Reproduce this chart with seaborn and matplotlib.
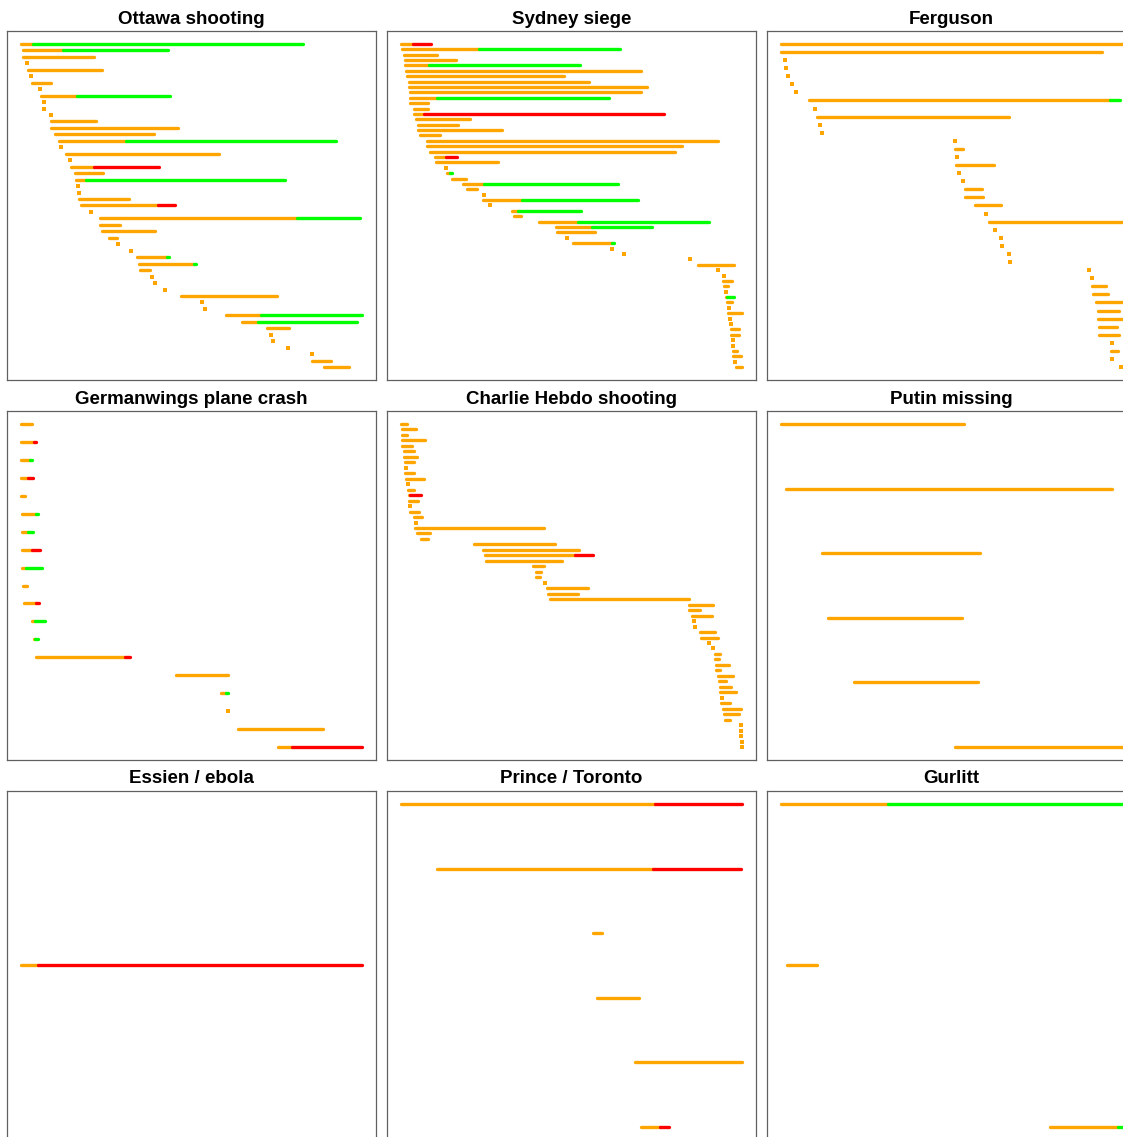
import numpy as np
import pandas as pd
import matplotlib
matplotlib.use("Agg")
import matplotlib.pyplot as plt
import seaborn as sns

# Colours: unverified -> orange, resolved true -> green, resolved false -> red
COLORS = {"U": "#FFA500", "T": "#00FF00", "F": "#FF0000"}

titles = ["Ottawa shooting", "Sydney siege", "Ferguson",
          "Germanwings plane crash", "Charlie Hebdo shooting", "Putin missing",
          "Essien / ebola", "Prince / Toronto", "Gurlitt"]

# Each row: (start, time of resolution or None, end, verdict)
ottawa = [
    (37, 75, 890, "T"), (44, 165, 481, "T"), (45, None, 259, "U"), (55, None, 55, "U"),
    (60, None, 282, "U"), (68, None, 68, "U"), (70, None, 129, "U"), (96, None, 96, "U"),
    (98, 207, 489, "T"), (106, None, 106, "U"), (108, None, 108, "U"), (130, None, 130, "U"),
    (128, None, 264, "U"), (128, None, 513, "U"), (140, None, 439, "U"), (153, 355, 989, "T"),
    (160, None, 160, "U"), (174, None, 636, "U"), (186, None, 186, "U"), (188, 259, 456, "F"),
    (200, None, 285, "U"), (204, 235, 835, "T"), (211, None, 211, "U"), (213, None, 213, "U"),
    (212, None, 365, "U"), (219, 453, 504, "F"), (249, None, 249, "U"), (277, 873, 1061, "T"),
    (278, None, 336, "U"), (282, None, 443, "U"), (305, None, 329, "U"), (331, None, 331, "U"),
    (370, None, 370, "U"), (387, 480, 486, "T"), (394, 560, 566, "T"), (396, None, 428, "U"),
    (434, None, 434, "U"), (443, None, 443, "U"), (472, None, 472, "U"), (522, None, 812, "U"),
    (585, None, 585, "U"), (593, None, 593, "U"), (656, 762, 1069, "T"), (705, 753, 1053, "T"),
    (781, None, 848, "U"), (793, None, 793, "U"), (798, None, 798, "U"), (843, None, 843, "U"),
    (918, None, 918, "U"), (916, None, 975, "U"), (952, None, 1028, "U"),
]

sydney = [
    (38, 75, 129, "F"), (41, 276, 701, "T"), (48, None, 147, "U"), (52, None, 206, "U"),
    (52, 125, 581, "T"), (53, None, 763, "U"), (57, None, 532, "U"), (62, None, 608, "U"),
    (63, None, 783, "U"), (65, None, 764, "U"), (66, 148, 668, "T"), (67, None, 120, "U"),
    (77, None, 120, "U"), (79, 108, 833, "F"), (84, None, 248, "U"), (91, None, 210, "U"),
    (91, None, 343, "U"), (95, None, 158, "U"), (117, None, 995, "U"), (118, None, 889, "U"),
    (126, None, 867, "U"), (141, 174, 207, "F"), (146, None, 331, "U"), (175, None, 175, "U"),
    (177, 186, 193, "T"), (193, None, 236, "U"), (227, 290, 694, "T"), (237, None, 270, "U"),
    (289, None, 289, "U"), (287, 405, 754, "T"), (309, None, 309, "U"), (373, 391, 582, "T"),
    (379, None, 401, "U"), (455, 573, 968, "T"), (507, 616, 797, "T"), (510, None, 624, "U"),
    (540, None, 540, "U"), (560, 676, 681, "T"), (676, None, 676, "U"), (713, None, 713, "U"),
    (913, None, 913, "U"), (935, None, 1044, "U"), (998, None, 998, "U"), (1015, None, 1015, "U"),
    (1012, None, 1040, "U"), (1014, None, 1027, "U"), (1022, None, 1022, "U"), (1021, 1024, 1046, "T"),
    (1023, None, 1040, "U"), (1029, None, 1029, "U"), (1027, None, 1070, "U"), (1033, None, 1033, "U"),
    (1036, None, 1036, "U"), (1037, None, 1059, "U"), (1037, None, 1060, "U"), (1042, None, 1042, "U"),
    (1042, None, 1042, "U"), (1042, None, 1055, "U"), (1043, None, 1066, "U"), (1048, None, 1048, "U"),
    (1052, None, 1070, "U"),
]

ferguson = [
    (38, None, 1066, "U"), (38, None, 1006, "U"), (50, None, 50, "U"), (55, None, 55, "U"),
    (61, None, 61, "U"), (73, None, 73, "U"), (85, None, 85, "U"), (122, 1030, 1059, "T"),
    (141, None, 141, "U"), (146, None, 726, "U"), (157, None, 157, "U"), (161, None, 161, "U"),
    (564, None, 564, "U"), (563, None, 588, "U"), (568, None, 568, "U"), (565, None, 680, "U"),
    (574, None, 574, "U"), (586, None, 586, "U"), (593, None, 644, "U"), (594, None, 648, "U"),
    (623, None, 700, "U"), (655, None, 655, "U"), (664, None, 1064, "U"), (682, None, 682, "U"),
    (700, None, 700, "U"), (703, None, 703, "U"), (724, None, 724, "U"), (727, None, 727, "U"),
    (967, None, 967, "U"), (976, None, 976, "U"), (974, None, 1016, "U"), (979, None, 1024, "U"),
    (986, None, 1066, "U"), (993, None, 1057, "U"), (993, None, 1065, "U"), (995, None, 1049, "U"),
    (995, None, 1055, "U"), (1034, None, 1034, "U"), (1031, None, 1052, "U"), (1035, None, 1035, "U"),
    (1062, None, 1062, "U"),
]

germanwings = [
    (38, None, 72, "U"), (38, 77, 85, "F"), (38, 65, 72, "T"), (38, 61, 74, "F"),
    (39, None, 51, "U"), (41, 83, 90, "T"), (42, 60, 75, "T"), (43, 72, 96, "F"),
    (43, 53, 102, "T"), (44, None, 57, "U"), (49, 83, 92, "F"), (73, 82, 111, "T"),
    (78, 81, 89, "T"), (83, 353, 368, "F"), (508, None, 664, "U"), (644, 658, 665, "T"),
    (664, None, 664, "U"), (695, None, 951, "U"), (815, 857, 1070, "F"),
]

charlie = [
    (38, None, 56, "U"), (41, None, 85, "U"), (41, None, 56, "U"), (43, None, 111, "U"),
    (43, None, 73, "U"), (47, None, 78, "U"), (48, None, 86, "U"), (50, None, 78, "U"),
    (55, None, 55, "U"), (52, None, 79, "U"), (54, None, 107, "U"), (59, None, 59, "U"),
    (60, None, 78, "U"), (62, 66, 100, "F"), (62, None, 89, "U"), (66, None, 66, "U"),
    (67, None, 94, "U"), (78, None, 103, "U"), (83, None, 83, "U"), (80, None, 469, "U"),
    (88, None, 127, "U"), (99, None, 120, "U"), (258, None, 503, "U"), (285, None, 576, "U"),
    (291, 564, 617, "F"), (294, None, 523, "U"), (436, None, 470, "U"), (445, None, 459, "U"),
    (445, None, 457, "U"), (471, None, 471, "U"), (478, None, 602, "U"), (482, None, 572, "U"),
    (486, None, 905, "U"), (905, None, 979, "U"), (906, None, 939, "U"), (914, None, 976, "U"),
    (920, None, 920, "U"), (923, None, 923, "U"), (939, None, 984, "U"), (942, None, 993, "U"),
    (967, None, 967, "U"), (977, None, 977, "U"), (985, None, 998, "U"), (985, None, 996, "U"),
    (986, None, 1025, "U"), (986, None, 1000, "U"), (993, None, 1038, "U"), (996, None, 1017, "U"),
    (999, None, 1031, "U"), (1000, None, 1046, "U"), (1004, None, 1004, "U"), (1003, None, 1030, "U"),
    (1008, None, 1062, "U"), (1011, None, 1055, "U"), (1015, None, 1028, "U"), (1061, None, 1061, "U"),
    (1062, None, 1062, "U"), (1062, None, 1062, "U"), (1064, None, 1064, "U"), (1066, None, 1066, "U"),
]

putin = [
    (38, None, 590, "U"), (53, None, 1036, "U"), (161, None, 638, "U"),
    (181, None, 584, "U"), (259, None, 632, "U"), (562, None, 1066, "U"),
]

essien = [
    (36, 87, 1068, "F"),
]

prince = [
    (401, 655.7, 743, "F"), (437, 653.7, 742.5, "F"), (594, None, 602.8, "U"),
    (598, None, 640.2, "U"), (636.3, None, 743.5, "U"), (641.6, 660.5, 670.2, "F"),
]

gurlitt = [
    (38, 360, 1066, "T"), (57, None, 146, "U"), (847, 1053, 1066, "T"),
]

panels = [ottawa, sydney, ferguson, germanwings, charlie, putin, essien, prince, gurlitt]

sns.set_theme(style="white")
plt.rcParams["font.family"] = ["Liberation Sans", "DejaVu Sans"]

W, H = 1123, 1137
fig = plt.figure(figsize=(W / 100, H / 100), dpi=100, facecolor="white")
lefts = [7, 387, 767]
tops = [31, 411, 791]
aw, ah = 369, 349
LW = 2.4

for k, (title, rows) in enumerate(zip(titles, panels)):
    r, c = divmod(k, 3)
    ax = fig.add_axes([lefts[c] / W, 1 - (tops[r] + ah) / H, aw / W, ah / H])
    df = pd.DataFrame(rows, columns=["start", "switch", "end", "verdict"])
    df["row"] = np.arange(len(df))
    df["switch"] = df["switch"].astype(float)

    seg = df[df["end"] > df["start"]]
    pend_end = seg["switch"].fillna(seg["end"])
    ax.hlines(seg["row"], seg["start"], pend_end, colors=COLORS["U"],
              linewidth=LW, capstyle="round", zorder=2)
    res = seg[seg["verdict"] != "U"]
    ax.hlines(res["row"], res["switch"], res["end"],
              colors=[COLORS[v] for v in res["verdict"]],
              linewidth=LW, capstyle="round", zorder=3)

    dots = df[df["end"] <= df["start"]]
    if len(dots):
        sns.scatterplot(data=dots, x="start", y="row", ax=ax, marker="s",
                        color=COLORS["U"], s=7, linewidth=0, legend=False, zorder=3)

    xmin, xmax = df["start"].min(), df["end"].max()
    mx = 0.04 * (xmax - xmin)
    ax.set_xlim(xmin - mx, xmax + mx)
    n = len(df)
    if n > 1:
        my = 0.04 * (n - 1)
        ax.set_ylim(n - 1 + my, -my)
    else:
        ax.set_ylim(1, -1)

    ax.set_xticks([])
    ax.set_yticks([])
    ax.set_xlabel("")
    ax.set_ylabel("")
    for sp in ax.spines.values():
        sp.set_visible(True)
        sp.set_color("#606060")
        sp.set_linewidth(0.9)
    ax.set_title(title, fontsize=13.5, fontweight="bold", pad=5.4, color="black")

fig.savefig("out.png", dpi=100, facecolor="white")
